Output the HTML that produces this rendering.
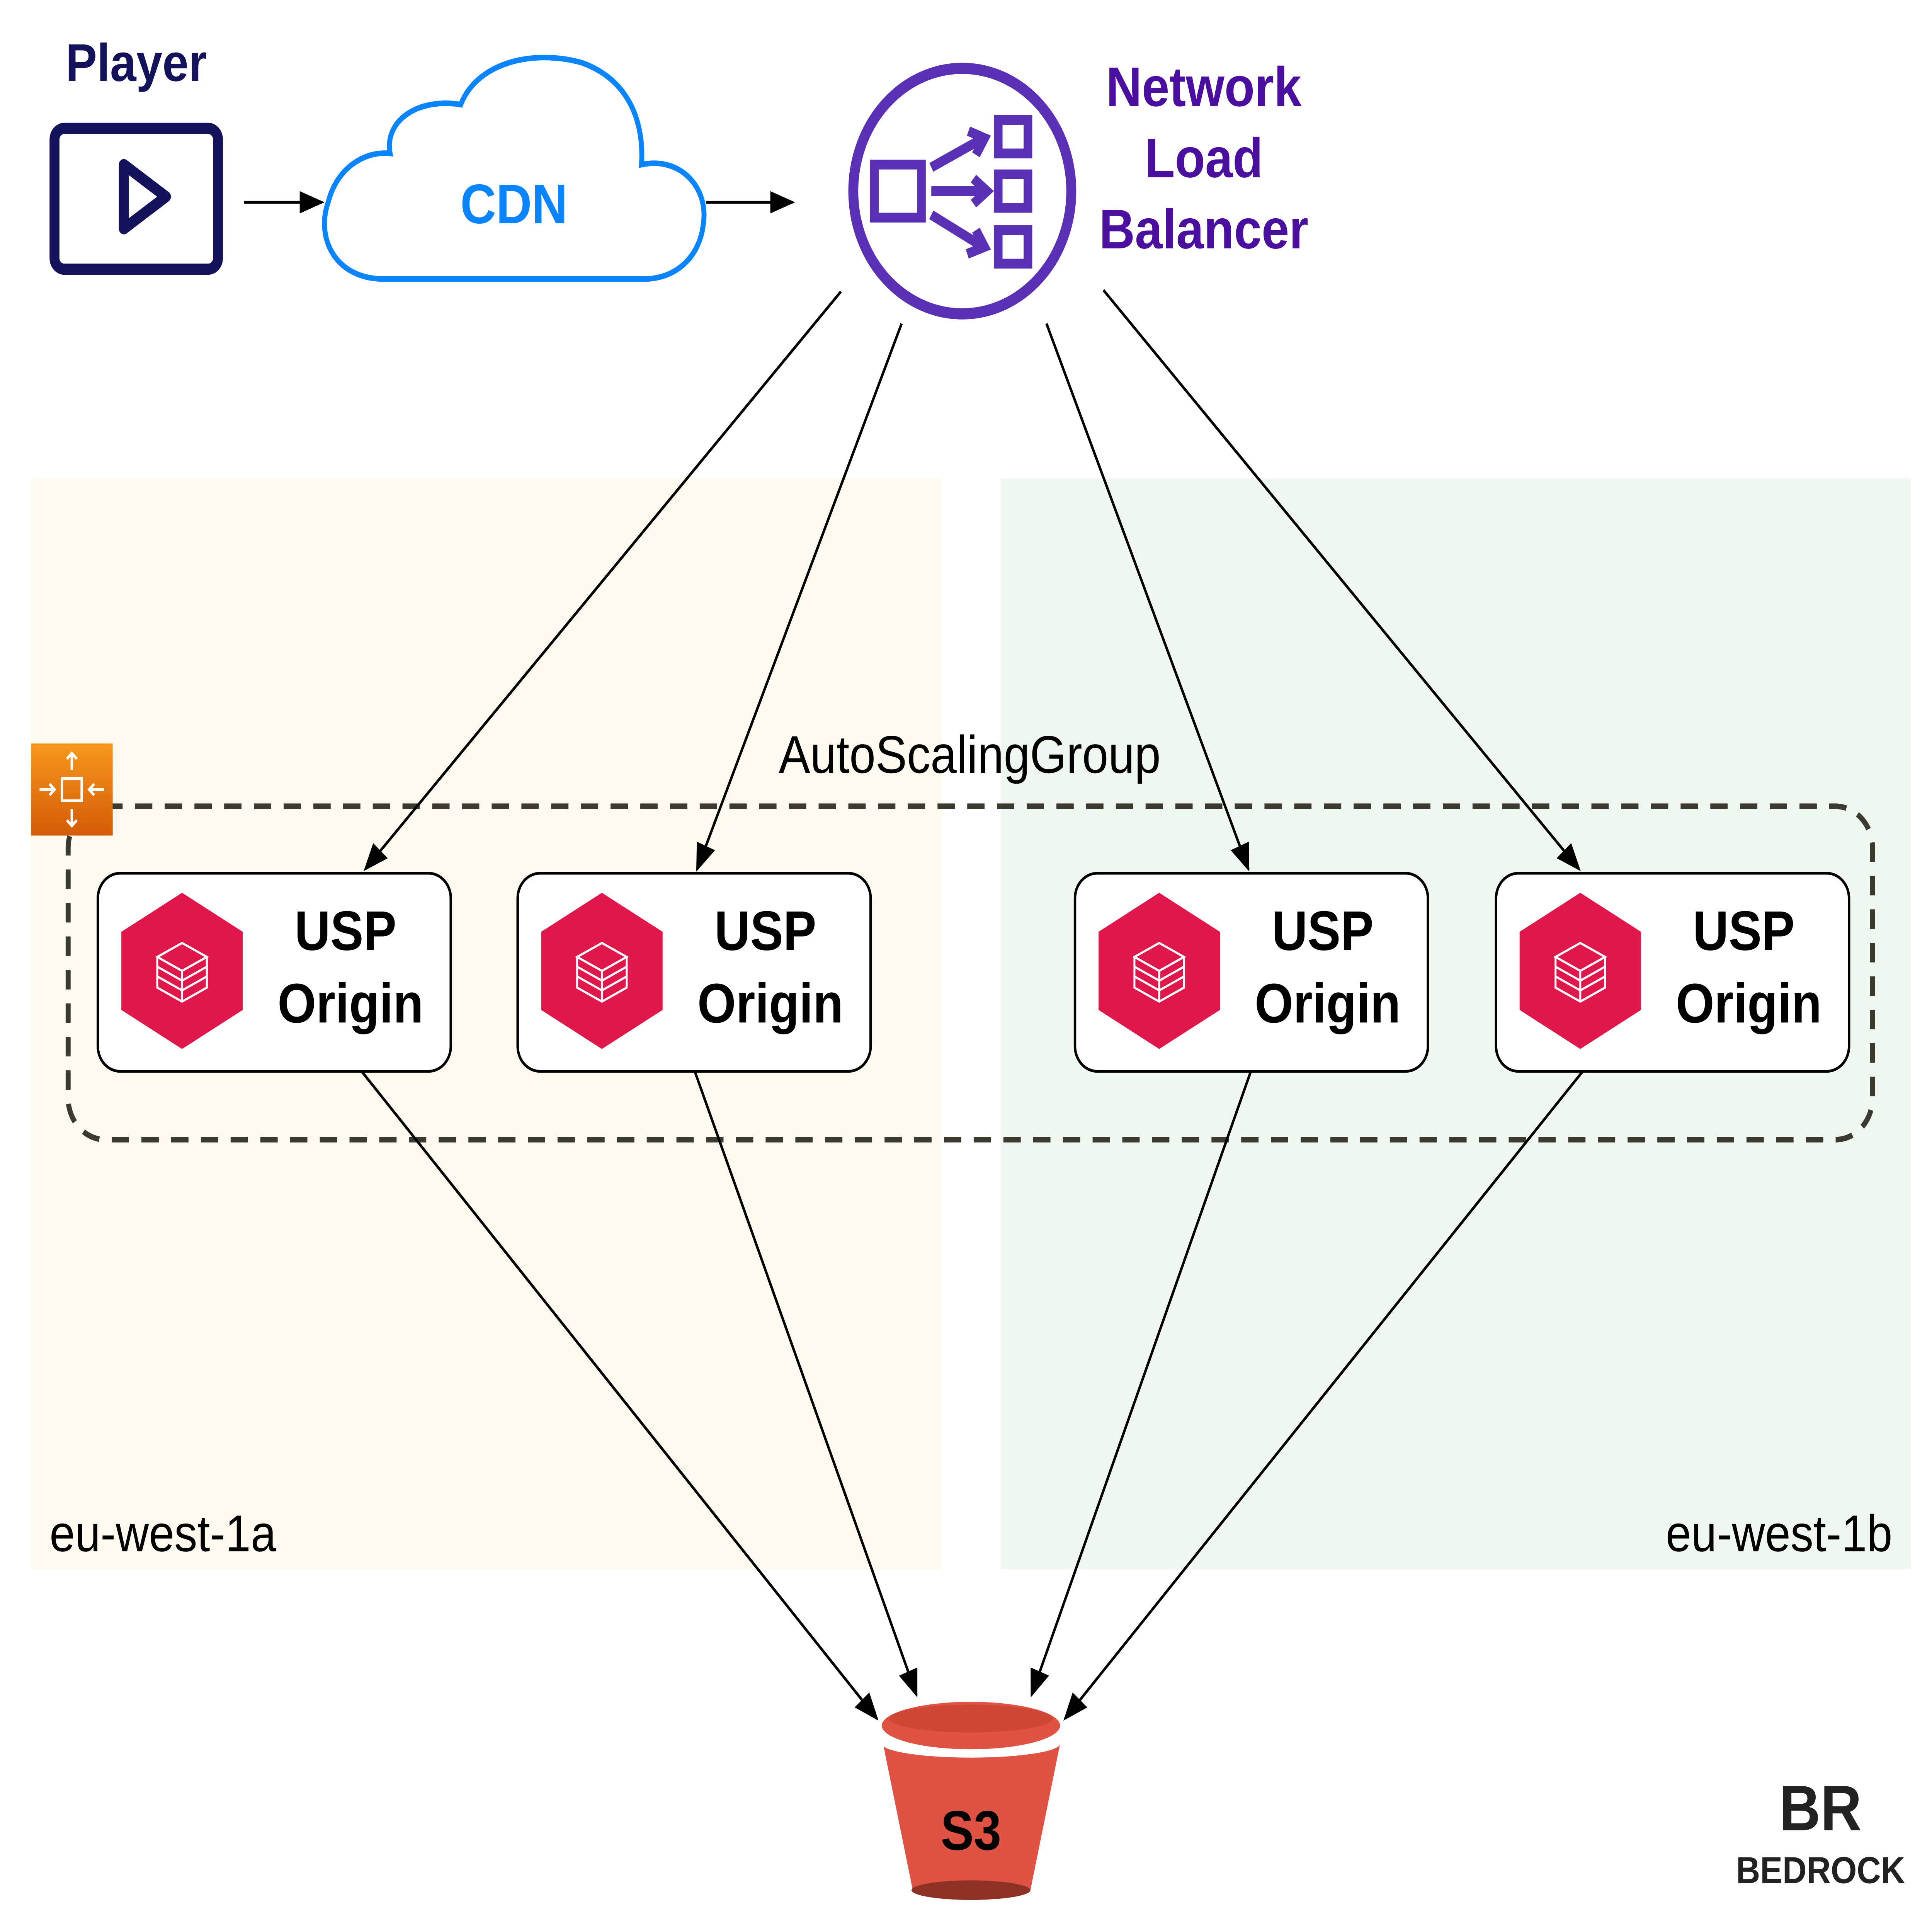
<!DOCTYPE html>
<html><head><meta charset="utf-8"><style>
html,body{margin:0;padding:0;background:#fff;width:100%;height:100%;overflow:hidden}
svg{display:block;width:100vw;height:100vh;position:fixed;left:0;top:0}
</style></head>
<body>
<svg viewBox="0 0 1560 1385" preserveAspectRatio="none" xmlns="http://www.w3.org/2000/svg" font-family="Liberation Sans, sans-serif">
<defs>
<marker id="b" viewBox="0 0 10 10" refX="9" refY="5" markerWidth="20" markerHeight="20" markerUnits="userSpaceOnUse" orient="auto"><path d="M0,1 L10,5 L0,9 z" fill="#000"/></marker>
<linearGradient id="og" x1="0" y1="0" x2="0" y2="1"><stop offset="0" stop-color="#f7981d"/><stop offset="1" stop-color="#d45b07"/></linearGradient>
<g id="usp">
<rect x="0" y="0" width="285" height="142" rx="18" fill="#fff" stroke="#000" stroke-width="2"/>
<polygon points="68,14 117,42 117,98 68,126 19,98 19,42" fill="#e0174a"/>
<g fill="none" stroke="#fff" stroke-width="1.6"><path d="M68,50 L88,60 L68,70 L48,60 z"/><path d="M48,60 V82 L68,92 L88,82 V60"/><path d="M68,70 V92"/><path d="M48,67 L68,77 L88,67 M48,74 L68,84 L88,74"/></g>
<text x="200" y="55" font-size="40" font-weight="bold" text-anchor="middle">USP</text>
<text x="204" y="107" font-size="40" font-weight="bold" text-anchor="middle">Origin</text>
</g>
</defs>
<rect x="25" y="343" width="735" height="782" fill="#fdf9ee"/>
<rect x="808" y="343" width="735" height="782" fill="#f0f7f0"/>
<text x="40" y="1112" font-size="37">eu-west-1a</text>
<text x="1528" y="1112" font-size="37" text-anchor="end">eu-west-1b</text>
<text x="110" y="58" font-size="38" font-weight="bold" fill="#14125a" text-anchor="middle">Player</text>
<rect x="44" y="92" width="132" height="101" rx="8" fill="none" stroke="#14125a" stroke-width="8"/>
<path d="M100,118 L100,164 L134,141 z" fill="none" stroke="#14125a" stroke-width="8" stroke-linejoin="round"/>
<line x1="197" y1="145" x2="260" y2="145" stroke="#000" stroke-width="2" marker-end="url(#b)"/>
<path d="M310,200 C270,200 255,170 265,145 C272,120 295,108 315,110 C310,85 340,70 372,75 C385,45 430,35 470,45 C510,58 520,90 518,118 C550,112 572,135 568,160 C565,185 545,200 520,200 Z" fill="#fff" stroke="#0a84ff" stroke-width="4"/>
<text x="415" y="160" font-size="40" font-weight="bold" fill="#0a84ff" text-anchor="middle">CDN</text>
<line x1="570" y1="145" x2="640" y2="145" stroke="#000" stroke-width="2" marker-end="url(#b)"/>
<circle cx="777" cy="137" r="88" fill="#fff" stroke="#5a30b5" stroke-width="8"/>
<g fill="none" stroke="#5a30b5" stroke-width="7"><rect x="706" y="118" width="38" height="38"/><rect x="806" y="86" width="24" height="24"/><rect x="806" y="125" width="24" height="24"/><rect x="806" y="165" width="24" height="24"/><path d="M752,120 L792,100 M752,137 L792,137 M752,154 L792,176"/><path d="M782,94 L795,99 L788,111 M786,128 L797,137 L786,146 M781,182 L795,177 L788,165"/></g>
<text x="972" y="76" font-size="40" font-weight="bold" fill="#4b0fa0" text-anchor="middle">Network</text>
<text x="972" y="127" font-size="40" font-weight="bold" fill="#4b0fa0" text-anchor="middle">Load</text>
<text x="972" y="178" font-size="40" font-weight="bold" fill="#4b0fa0" text-anchor="middle">Balancer</text>
<rect x="55" y="578" width="1457" height="239" rx="30" fill="none" stroke="#3a3a30" stroke-width="4" stroke-dasharray="14,10"/>
<text x="783" y="554" font-size="38" text-anchor="middle">AutoScalingGroup</text>
<rect x="25" y="533" width="66" height="66" fill="url(#og)"/>
<g stroke="#fff" stroke-width="2" fill="none"><rect x="50" y="558" width="16" height="16"/><path d="M58,540 V552 M54,544 L58,540 L62,544 M58,592 V580 M54,588 L58,592 L62,588 M32,566 H44 M40,562 L44,566 L40,570 M84,566 H72 M76,562 L72,566 L76,570"/></g>
<use href="#usp" x="79" y="626"/>
<use href="#usp" x="418" y="626"/>
<use href="#usp" x="868" y="626"/>
<use href="#usp" x="1208" y="626"/>
<g stroke="#000" stroke-width="2" marker-end="url(#b)">
<line x1="679" y1="209" x2="295" y2="623"/>
<line x1="728" y1="232" x2="563" y2="623"/>
<line x1="845" y1="232" x2="1008" y2="623"/>
<line x1="891" y1="208" x2="1275" y2="623"/>
<line x1="292" y1="768" x2="708" y2="1232"/>
<line x1="561" y1="768" x2="740" y2="1215"/>
<line x1="1010" y1="768" x2="833" y2="1215"/>
<line x1="1278" y1="768" x2="860" y2="1232"/>
</g>
<path d="M713,1250 L737,1355 Q784,1368 832,1355 L856,1250 Z" fill="#e05243"/>
<ellipse cx="784" cy="1355" rx="48" ry="7" fill="#8c3123"/>
<ellipse cx="784" cy="1250" rx="72" ry="10" fill="#fff"/>
<ellipse cx="784" cy="1237" rx="72" ry="17" fill="#e05243"/>
<ellipse cx="784" cy="1232" rx="66" ry="10" fill="#c0392b" opacity="0.5"/>
<text x="784" y="1326" font-size="40" font-weight="bold" text-anchor="middle">S3</text>
<text x="1470" y="1312" font-size="46" font-weight="bold" text-anchor="middle" fill="#222">BR</text>
<text x="1470" y="1350" font-size="27" font-weight="bold" text-anchor="middle" fill="#222">BEDROCK</text>
</svg>
</body></html>
